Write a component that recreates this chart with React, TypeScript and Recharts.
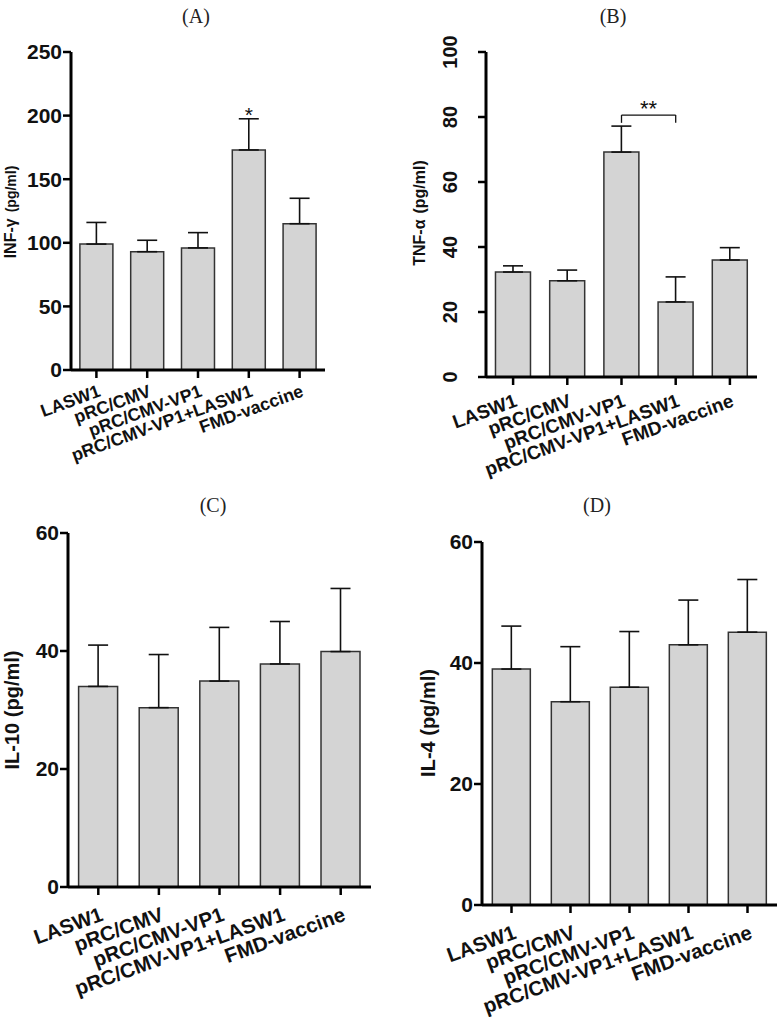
import React from "react";
import {
  BarChart,
  Bar,
  XAxis,
  YAxis,
  ErrorBar,
  LabelList,
  ReferenceLine,
} from "recharts";

// groups on the x axis, shared by all four panels
const CATEGORIES = [
  "LASW1",
  "pRC/CMV",
  "pRC/CMV-VP1",
  "pRC/CMV-VP1+LASW1",
  "FMD-vaccine",
];

// (A) INF-gamma
const INF_MEAN = [99, 93, 96, 173, 115];
const INF_SD = [17, 9, 12, 24.5, 20];
const INF_SIG = ["", "", "", "*", ""];
const INF_TICKS = [0, 50, 100, 150, 200, 250];

// (B) TNF-alpha
const TNF_MEAN = [32.3, 29.6, 69.2, 23.1, 36.0];
const TNF_SD = [1.9, 3.3, 8.0, 7.7, 3.8];
const TNF_TICKS = [0, 20, 40, 60, 80, 100];

// (C) IL-10
const IL10_MEAN = [34.0, 30.4, 34.9, 37.8, 39.9];
const IL10_SD = [7.0, 9.0, 9.1, 7.2, 10.7];

// (D) IL-4
const IL4_MEAN = [39.0, 33.6, 36.0, 43.0, 45.1];
const IL4_SD = [7.1, 9.1, 9.2, 7.4, 8.7];

const IL_TICKS = [0, 20, 40, 60];

const SANS = '"Liberation Sans", Arial, sans-serif';
const SERIF = '"Liberation Serif", "Times New Roman", serif';
const BAR_FILL = "#d4d4d4";
const INK = "#111";

type Plot = { x0: number; y0: number; x1: number; y1: number };

type PanelProps = {
  title: string;
  titleX: number;
  titleY: number;
  left: number;
  top: number;
  width: number;
  height: number;
  plot: Plot;
  max: number;
  ticks: number[];
  mean: number[];
  sd: number[];
  sig?: string[];
  yLabel: React.ReactNode;
  labelX: number;
  labelY: number;
  labelSize: number;
  tickSize: number;
  catSize: number;
  catDx: number;
  catDy: number;
  rotatedTicks?: boolean;
  bracket?: { from: string; to: string; y: number; leg: number; text: string };
};

function XTick(props: any) {
  const { x, y, payload, fs, dx, dy } = props;
  // y arrives as axis + tickSize + 2
  return (
    <g transform={`translate(${Number(x) + dx},${Number(y) - 10 + dy}) rotate(-20)`}>
      <text
        textAnchor="end"
        fontFamily={SANS}
        fontWeight="bold"
        fontSize={fs}
        fill={INK}
      >
        {payload.value}
      </text>
    </g>
  );
}

function RotYTick(props: any) {
  const { x, y, payload } = props;
  return (
    <text
      transform={`translate(${Number(x) - 19},${y}) rotate(-90)`}
      textAnchor="middle"
      fontFamily={SANS}
      fontWeight="bold"
      fontSize={20}
      fill={INK}
    >
      {payload.value}
    </text>
  );
}

function Panel(p: PanelProps) {
  const data = CATEGORIES.map((name, i) => ({
    name,
    mean: p.mean[i],
    err: [0, p.sd[i]],
    sig: p.sig ? p.sig[i] : "",
  }));

  const axisLine = { stroke: "#000", strokeWidth: 3 };
  const tickLine = { stroke: "#000", strokeWidth: 2.5 };

  // star sits just above the error cap of its bar
  const sigLabel = (lp: any) => {
    const { x, y, width, height, index, value } = lp;
    if (!value) return null;
    const v = p.mean[index];
    const errTop = Number(y) - (p.sd[index] * Number(height)) / v;
    return (
      <text
        x={Number(x) + Number(width) / 2}
        y={errTop + 3}
        textAnchor="middle"
        fontFamily={SANS}
        fontSize={21}
        fill={INK}
      >
        {value}
      </text>
    );
  };

  const labels = () => (
    <g>
      <text
        x={p.titleX}
        y={p.titleY}
        textAnchor="middle"
        fontFamily={SERIF}
        fontSize={20}
        fill="#222"
      >
        {p.title}
      </text>
      <text
        transform={`translate(${p.labelX},${p.labelY}) rotate(-90)`}
        textAnchor="middle"
        fontFamily={SANS}
        fontWeight="bold"
        fontSize={p.labelSize}
        fill={INK}
      >
        {p.yLabel}
      </text>
    </g>
  );

  return (
    <div style={{ position: "absolute", left: p.left, top: p.top }}>
      <BarChart
        width={p.width}
        height={p.height}
        data={data}
        margin={{ top: p.plot.y0, right: p.width - p.plot.x1, bottom: 0, left: 0 }}
        barCategoryGap="17.5%"
      >
        <XAxis
          dataKey="name"
          interval={0}
          height={p.height - p.plot.y1}
          axisLine={axisLine}
          tickLine={tickLine}
          tickSize={8}
          tick={(tp: any) => (
            <XTick {...tp} fs={p.catSize} dx={p.catDx} dy={p.catDy} />
          )}
        />
        <YAxis
          width={p.plot.x0}
          domain={[0, p.max]}
          ticks={p.ticks}
          interval={0}
          axisLine={axisLine}
          tickLine={tickLine}
          tickSize={8}
          tickMargin={p.rotatedTicks ? 2 : 1}
          tick={
            p.rotatedTicks ? (
              <RotYTick />
            ) : (
              {
                fill: INK,
                fontFamily: SANS,
                fontWeight: "bold",
                fontSize: p.tickSize,
              }
            )
          }
          label={{ content: labels }}
        />
        <Bar
          dataKey="mean"
          fill={BAR_FILL}
          stroke="#333"
          strokeWidth={1.5}
          isAnimationActive={false}
        >
          <ErrorBar
            dataKey="err"
            direction="y"
            width={10}
            stroke={INK}
            strokeWidth={1.6}
            isAnimationActive={false}
          />
          {p.sig && <LabelList dataKey="sig" content={sigLabel} />}
        </Bar>
        {p.bracket && (
          <ReferenceLine
            segment={[
              { x: p.bracket.from, y: p.bracket.y },
              { x: p.bracket.to, y: p.bracket.y },
            ]}
            stroke={INK}
            strokeWidth={1.3}
            label={{
              value: p.bracket.text,
              position: "top",
              offset: -1,
              fontSize: 22,
              fontFamily: SANS,
              fill: INK,
            }}
          />
        )}
        {p.bracket && (
          <ReferenceLine
            segment={[
              { x: p.bracket.from, y: p.bracket.y },
              { x: p.bracket.from, y: p.bracket.y - p.bracket.leg },
            ]}
            stroke={INK}
            strokeWidth={1.3}
          />
        )}
        {p.bracket && (
          <ReferenceLine
            segment={[
              { x: p.bracket.to, y: p.bracket.y },
              { x: p.bracket.to, y: p.bracket.y - p.bracket.leg },
            ]}
            stroke={INK}
            strokeWidth={1.3}
          />
        )}
      </BarChart>
    </div>
  );
}

export default function App() {
  return (
    <div
      style={{
        position: "absolute",
        left: 0,
        top: 0,
        width: 782,
        height: 1017,
        background: "#fff",
        overflow: "hidden",
      }}
    >
      <Panel
        title="(A)"
        titleX={196}
        titleY={23}
        left={0}
        top={0}
        width={390}
        height={490}
        plot={{ x0: 71, y0: 52, x1: 325, y1: 370 }}
        max={250}
        ticks={INF_TICKS}
        mean={INF_MEAN}
        sd={INF_SD}
        sig={INF_SIG}
        yLabel={
          <>
            <tspan>INF-γ</tspan>
            <tspan dx={6} fontSize={14}>(pg/ml)</tspan>
          </>
        }
        labelX={16}
        labelY={212}
        labelSize={16}
        tickSize={21}
        catSize={17.7}
        catDx={5}
        catDy={26}
      />
      <Panel
        title="(B)"
        titleX={223}
        titleY={23}
        left={390}
        top={0}
        width={392}
        height={490}
        plot={{ x0: 96, y0: 52, x1: 367, y1: 377 }}
        max={100}
        ticks={TNF_TICKS}
        mean={TNF_MEAN}
        sd={TNF_SD}
        rotatedTicks
        bracket={{
          from: "pRC/CMV-VP1",
          to: "pRC/CMV-VP1+LASW1",
          y: 80.6,
          leg: 2.4,
          text: "**",
        }}
        yLabel={
          <>
            <tspan>TNF-α</tspan>
            <tspan dx={6}>(pg/ml)</tspan>
          </>
        }
        labelX={35}
        labelY={213}
        labelSize={16}
        tickSize={20}
        catSize={19}
        catDx={5}
        catDy={29}
      />
      <Panel
        title="(C)"
        titleX={213}
        titleY={22}
        left={0}
        top={490}
        width={390}
        height={527}
        plot={{ x0: 68, y0: 43, x1: 371, y1: 397 }}
        max={60}
        ticks={IL_TICKS}
        mean={IL10_MEAN}
        sd={IL10_SD}
        yLabel="IL-10 (pg/ml)"
        labelX={19}
        labelY={220}
        labelSize={20}
        tickSize={21}
        catSize={20.5}
        catDx={6}
        catDy={33}
      />
      <Panel
        title="(D)"
        titleX={207}
        titleY={22}
        left={390}
        top={490}
        width={392}
        height={527}
        plot={{ x0: 92, y0: 52, x1: 387, y1: 415 }}
        max={60}
        ticks={IL_TICKS}
        mean={IL4_MEAN}
        sd={IL4_SD}
        yLabel="IL-4 (pg/ml)"
        labelX={45}
        labelY={233}
        labelSize={20}
        tickSize={21}
        catSize={20.5}
        catDx={6}
        catDy={33}
      />
    </div>
  );
}
